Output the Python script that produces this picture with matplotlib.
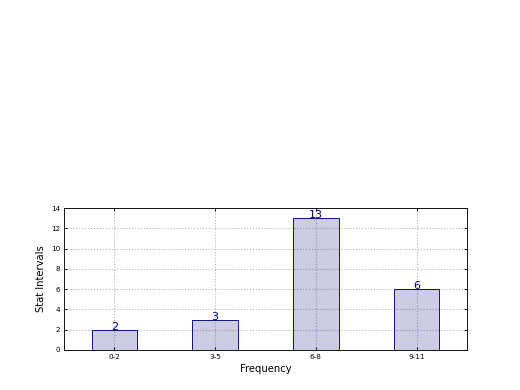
import matplotlib
matplotlib.use("Agg")
import matplotlib.pyplot as plt
import numpy as np

intervals = ["0-2", "3-5", "6-8", "9-11"]
counts = [2, 3, 13, 6]

fig = plt.figure(figsize=(6.5, 4.875), dpi=80)
ax = fig.add_axes([0.123, 0.1026, 0.775, 0.364])

x = np.arange(len(intervals))
ax.bar(x, counts, width=0.45, color="navy", alpha=0.2, zorder=2)
ax.bar(x, counts, width=0.45, facecolor="none", edgecolor="navy", linewidth=0.8, zorder=3)

for xi, c in zip(x, counts):
    ax.text(xi, c, str(c), ha="center", va="baseline", color="navy", fontsize=10,
            zorder=4)

ax.set_xlim(-0.5, 3.5)
ax.set_ylim(0, 14)
ax.set_yticks(range(0, 15, 2))
ax.set_xticks(x)
ax.set_xticklabels(intervals)
ax.tick_params(direction="in", labelsize=6.5, top=True, right=True, length=3)
ax.grid(True, linestyle=":", color="0.7", linewidth=1.0, zorder=0)
ax.set_axisbelow(True)
ax.set_xlabel("Frequency", fontsize=9)
ax.set_ylabel("Stat Intervals", fontsize=9)

fig.savefig("out.png", dpi=80)
